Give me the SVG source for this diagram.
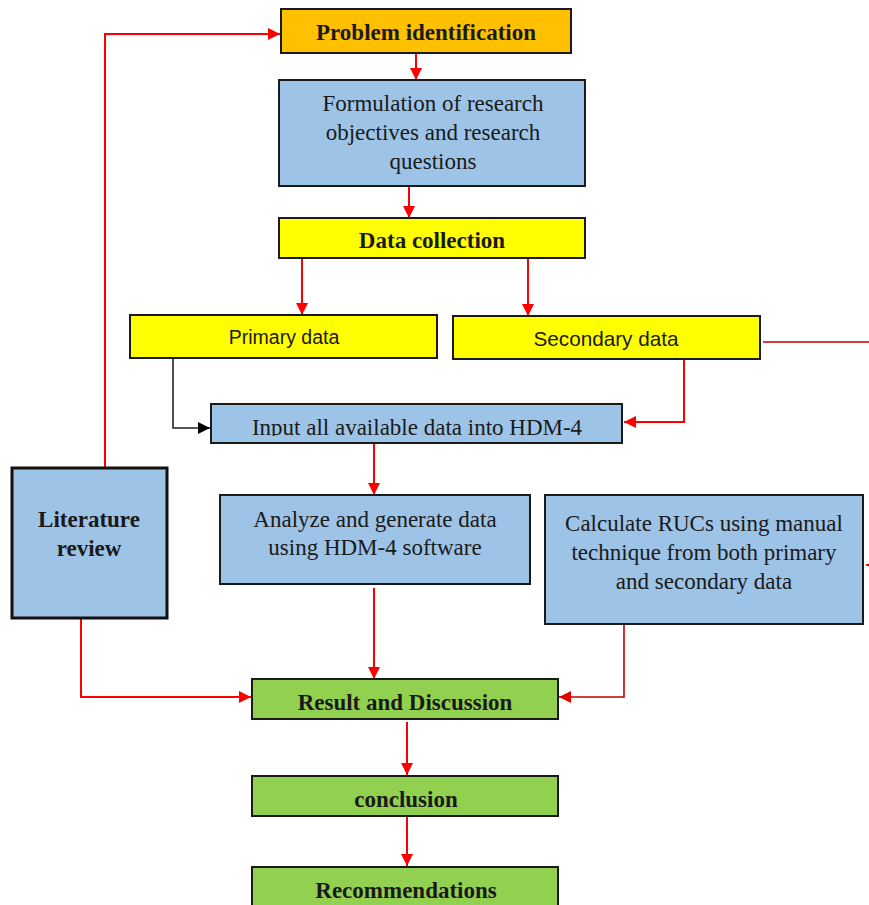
<svg xmlns="http://www.w3.org/2000/svg" width="869" height="905" viewBox="0 0 869 905">
<style>
.box{stroke:#1a1a1a;stroke-width:2}
.blue{fill:#9DC3E6}
.yel{fill:#FFFF00}
.org{fill:#FFC000}
.grn{fill:#92D050}
.t{font-family:"Liberation Serif","Times New Roman",serif;font-size:23px;fill:#1a1a1a;text-anchor:middle}
.b{font-weight:bold}
.s{font-family:"Liberation Sans",Arial,sans-serif;fill:#1a1a1a;text-anchor:middle}
.c{fill:none;stroke:#FF0000;stroke-width:2}
.dk{fill:none;stroke:#C00000;stroke-width:1.6}
.bk{fill:none;stroke:#222;stroke-width:1.6}
</style>
<defs>
<marker id="ar" markerUnits="userSpaceOnUse" markerWidth="13" markerHeight="12" refX="12" refY="6" orient="auto"><path d="M0,0 L12,6 L0,12 Z" fill="#FF0000"/></marker>
<marker id="ad" markerUnits="userSpaceOnUse" markerWidth="13" markerHeight="12" refX="12" refY="6" orient="auto"><path d="M0,0 L12,6 L0,12 Z" fill="#E00000"/></marker>
<marker id="ab" markerUnits="userSpaceOnUse" markerWidth="13" markerHeight="12" refX="12" refY="6" orient="auto"><path d="M0,0 L12,6 L0,12 Z" fill="#000"/></marker>
<clipPath id="inclip"><rect x="211" y="404" width="411" height="32"/></clipPath>
</defs>
<rect width="869" height="905" fill="#fff"/>
<g id="connectors">
<path class="c" d="M416,53 V80" marker-end="url(#ar)"/>
<path class="c" d="M409,186 V218" marker-end="url(#ar)"/>
<path class="c" d="M302,258 V315" marker-end="url(#ar)"/>
<path class="c" d="M528,258 V316" marker-end="url(#ar)"/>
<path class="bk" d="M173,359 V428 H210" marker-end="url(#ab)"/>
<path class="c" d="M684,359 V422 H624" marker-end="url(#ar)"/>
<path class="dk" d="M763,342 H885 V565 H866" marker-end="url(#ad)"/>
<path class="c" d="M374,443 V495" marker-end="url(#ar)"/>
<path class="c" d="M374,588 V679" marker-end="url(#ar)"/>
<path class="dk" d="M624,624 V697 H559" marker-end="url(#ad)"/>
<path class="c" d="M105,467 V34 H280" marker-end="url(#ar)"/>
<path class="c" d="M81,618 V697 H251" marker-end="url(#ar)"/>
<path class="c" d="M407,722 V775" marker-end="url(#ar)"/>
<path class="c" d="M407,816 V866" marker-end="url(#ar)"/>
</g>
<g id="problem">
<rect class="box org" x="281" y="9" width="290" height="44"/>
<text class="t b" x="426" y="40">Problem identification</text>
</g>
<g id="formulation">
<rect class="box blue" x="279" y="80" width="306" height="106"/>
<text class="t" x="433" y="111">Formulation of research</text>
<text class="t" x="433" y="140">objectives and research</text>
<text class="t" x="433" y="169">questions</text>
</g>
<g id="datacollection">
<rect class="box yel" x="279" y="218" width="306" height="40"/>
<text class="t b" x="432" y="248">Data collection</text>
</g>
<g id="primary">
<rect class="box yel" x="130" y="315" width="307" height="43"/>
<text class="s" x="284" y="344" font-size="19.5">Primary data</text>
</g>
<g id="secondary">
<rect class="box yel" x="453" y="316" width="307" height="43"/>
<text class="s" x="606" y="346" font-size="20.7">Secondary data</text>
</g>
<g id="input">
<rect class="box blue" x="211" y="404" width="411" height="39"/>
<text class="t" x="417" y="435" clip-path="url(#inclip)">Input all available data into HDM-4</text>
</g>
<g id="analyze">
<rect class="box blue" x="220" y="495" width="310" height="89"/>
<text class="t" x="375" y="527">Analyze and generate data</text>
<text class="t" x="375" y="555">using HDM-4 software</text>
</g>
<g id="calculate">
<rect class="box blue" x="545" y="495" width="318" height="129"/>
<text class="t" x="704" y="531">Calculate RUCs using manual</text>
<text class="t" x="704" y="560">technique from both primary</text>
<text class="t" x="704" y="589">and secondary data</text>
</g>
<g id="literature">
<rect x="12" y="468" width="155" height="150" fill="#9DC3E6" stroke="#111" stroke-width="3"/>
<text class="t b" x="89" y="527">Literature</text>
<text class="t b" x="89" y="556">review</text>
</g>
<g id="result">
<rect class="box grn" x="252" y="679" width="306" height="40"/>
<text class="t b" x="405" y="710">Result and Discussion</text>
</g>
<g id="conclusion">
<rect class="box grn" x="252" y="776" width="306" height="40"/>
<text class="t b" x="406" y="807">conclusion</text>
</g>
<g id="recommendations">
<rect class="box grn" x="252" y="867" width="306" height="50"/>
<text class="t b" x="406" y="898">Recommendations</text>
</g>
</svg>
